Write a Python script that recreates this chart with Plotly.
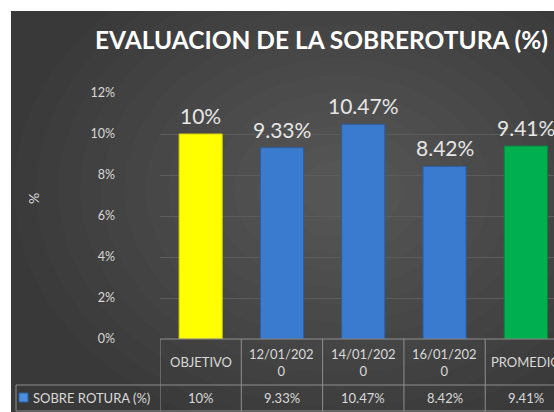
import plotly.graph_objects as go

categorias = ["OBJETIVO", "12/01/2020", "14/01/2020", "16/01/2020", "PROMEDIO"]
encabezados = ["OBJETIVO", "12/01/202<br>0", "14/01/202<br>0", "16/01/202<br>0", "PROMEDIO"]
sobre_rotura = [10, 9.33, 10.47, 8.42, 9.41]
etiquetas = ["10%", "9.33%", "10.47%", "8.42%", "9.41%"]
colores = ["#ffff00", "#3b7bcf", "#3b7bcf", "#3b7bcf", "#00b050"]
bordes = ["#d6d600", "#2c5e9e", "#2c5e9e", "#2c5e9e", "#008c3f"]

W, H = 554, 412
L, R, T, B = 160, 0, 93, 73
pw, ph = W - L - R, H - T - B


def px_x(x):
    return (x - L) / pw


def px_y(y):
    return (H - B - y) / ph


fig = go.Figure(go.Bar(
    x=categorias,
    y=sobre_rotura,
    marker=dict(color=colores, line=dict(color=bordes, width=1)),
    cliponaxis=False,
))

shapes = []
# fondo oscuro con borde blanco arriba e izquierda
shapes.append(dict(type="rect", xref="paper", yref="paper", layer="below",
                   x0=px_x(11), x1=px_x(W + 5), y0=px_y(11), y1=px_y(H + 5),
                   fillcolor="#393939", line=dict(width=0)))
# falso degradado radial, suave
for i in range(14):
    rx, ry = 40 + i * 22, 30 + i * 17
    shapes.append(dict(type="circle", xref="paper", yref="paper", layer="below",
                       x0=px_x(340 - rx), x1=px_x(340 + rx),
                       y0=px_y(190 - ry), y1=px_y(190 + ry),
                       fillcolor="rgba(255,255,255,0.012)", line=dict(width=0)))

linea = dict(color="#8f8f8f", width=1)
# tabla de datos
shapes.append(dict(type="line", xref="x", yref="paper", x0=-0.5, x1=4.6,
                   y0=px_y(339), y1=px_y(339), line=linea))
shapes.append(dict(type="line", xref="paper", yref="paper", x0=px_x(16), x1=1.01,
                   y0=px_y(385), y1=px_y(385), line=linea))
shapes.append(dict(type="line", xref="paper", yref="paper", x0=px_x(16), x1=1.01,
                   y0=px_y(411), y1=px_y(411), line=linea))
shapes.append(dict(type="line", xref="paper", yref="paper", x0=px_x(16), x1=px_x(16),
                   y0=px_y(385), y1=px_y(411), line=linea))
for i in range(len(categorias)):
    shapes.append(dict(type="line", xref="x", yref="paper", x0=i - 0.5, x1=i - 0.5,
                       y0=px_y(339), y1=px_y(411), line=linea))
# cuadro de leyenda
shapes.append(dict(type="rect", xref="paper", yref="paper",
                   x0=px_x(19), x1=px_x(28), y0=px_y(393), y1=px_y(402),
                   fillcolor="#4a8ee0", line=dict(color="#2c5e9e", width=1)))

fuente_tabla = dict(size=13, color="#d9d9d9", family="Lato")
annotations = []
for i, c in enumerate(categorias):
    # etiqueta de valor sobre la barra
    annotations.append(dict(x=c, xref="x", y=sobre_rotura[i], yref="y", text=etiquetas[i],
                            xanchor="center", yanchor="bottom", yshift=4, showarrow=False,
                            font=dict(size=21, color="#e6e6e6", family="Lato")))
    annotations.append(dict(x=c, xref="x", y=px_y(362), yref="paper", text=encabezados[i],
                            xanchor="center", yanchor="middle",
                            showarrow=False, font=fuente_tabla))
    annotations.append(dict(x=c, xref="x", y=px_y(398), yref="paper", text=etiquetas[i],
                            xanchor="center", yanchor="middle",
                            showarrow=False, font=fuente_tabla))
annotations.append(dict(x=px_x(31), xref="paper", y=px_y(398), yref="paper",
                        xanchor="left", yanchor="middle",
                        text="SOBRE ROTURA (%)", showarrow=False, font=fuente_tabla))
annotations.append(dict(x=px_x(33), xref="paper", y=px_y(198), yref="paper", text="%",
                        xanchor="center", yanchor="middle", textangle=-90, showarrow=False,
                        font=dict(size=14, color="#d9d9d9", family="Lato")))
annotations.append(dict(x=px_x(321), xref="paper", y=px_y(39), yref="paper",
                        xanchor="center", yanchor="middle",
                        text="<b>EVALUACION DE LA SOBREROTURA (%)</b>", showarrow=False,
                        font=dict(size=24.5, color="#ffffff", family="Lato")))

fig.update_layout(
    width=W, height=H,
    margin=dict(l=L, r=R, t=T, b=B),
    paper_bgcolor="#ffffff",
    plot_bgcolor="rgba(0,0,0,0)",
    showlegend=False,
    bargap=0.47,
    shapes=shapes,
    annotations=annotations,
    xaxis=dict(showticklabels=False, showgrid=False, zeroline=False,
               range=[-0.5, 4.346], fixedrange=True),
    yaxis=dict(range=[0, 12], dtick=2, ticksuffix="%", showgrid=True,
               gridcolor="#5c5c5c", gridwidth=1, zeroline=False,
               tickfont=dict(size=12.5, color="#d9d9d9", family="Lato"),
               ticklabelstandoff=44),
)

fig.write_html("out.html", config={"displayModeBar": False},
               post_script="document.body.style.margin='0';")
